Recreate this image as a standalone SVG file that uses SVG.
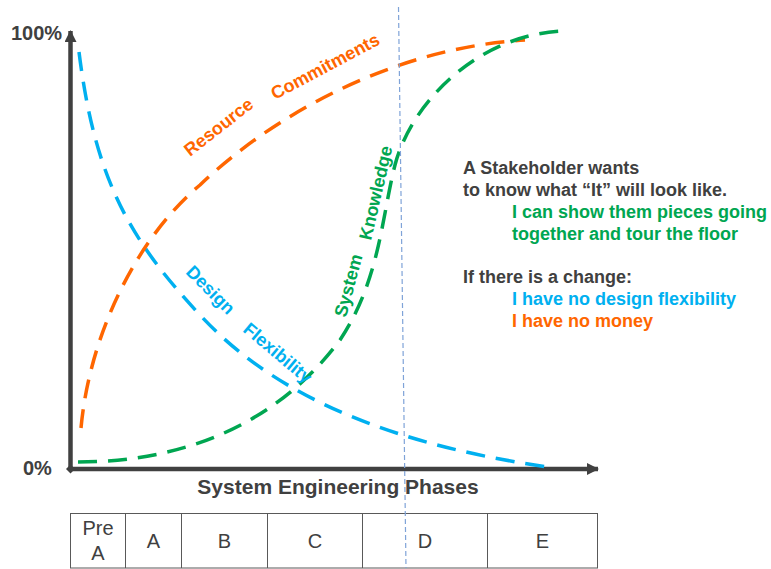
<svg xmlns="http://www.w3.org/2000/svg" width="771" height="569" viewBox="0 0 771 569">
  <style>
    .curve { fill: none; stroke-width: 3.5; stroke-dasharray: 19 11; }
    .blue { stroke: #00b0f0; }
    .orange { stroke: #ff6600; }
    .green { stroke: #00a651; }
    .lbl { font-family: "Liberation Sans", Arial, sans-serif; font-weight: bold; font-size: 18px; }
    .dark { fill: #404040; }
    .tb { font-family: "Liberation Sans", Arial, sans-serif; font-weight: bold; font-size: 18px; }
    .cell { font-family: "Liberation Sans", Arial, sans-serif; font-size: 20px; fill: #404040; text-anchor: middle; }
    .axislbl { font-family: "Liberation Sans", Arial, sans-serif; font-weight: bold; font-size: 20px; fill: #404040; }
  </style>
  <defs>
    <marker id="arrow" viewBox="0 0 12 12" refX="11" refY="6" markerWidth="12" markerHeight="12" markerUnits="userSpaceOnUse" orient="auto">
      <path d="M0,0 L12,6 L0,12 Z" fill="#404040"/>
    </marker>
  </defs>
  <rect x="0" y="0" width="771" height="569" fill="#ffffff"/>

  <g id="axes">
    <line x1="70.5" y1="469" x2="70.5" y2="31" stroke="#404040" stroke-width="4.5" marker-end="url(#arrow)"/>
    <line x1="70" y1="469" x2="598" y2="469" stroke="#404040" stroke-width="4.5" marker-end="url(#arrow)"/>
    <path d="M70.5,464.5 L75,469 L70.5,473.5 L66,469 Z" fill="#404040"/>
    <text class="axislbl" x="11" y="40">100%</text>
    <text class="axislbl" x="23" y="475">0%</text>
    <text class="axislbl" x="338" y="494" text-anchor="middle" style="font-size:21px">System Engineering Phases</text>
  </g>

  <g id="connectors">
    <path id="design-flexibility-curve" class="curve blue" d="M79,52 C95,180 130,240 200,315 C260,380 360,440 548,467"/>
    <path id="resource-curve" class="curve orange" d="M81,428 C90,330 140,235 200,185 C270,118 390,48 525,40"/>
    <path id="knowledge-curve" class="curve green" d="M78,462 C190,462 280,420 340,340 C380,280 382,215 395,165 C412,100 482,32 567,31"/>
  </g>

  <g id="curve-labels">
    <text class="lbl" fill="#ff6600" transform="translate(190,157) rotate(-38)">Resource</text>
    <text class="lbl" fill="#ff6600" transform="translate(275,100) rotate(-28)">Commitments</text>
    <text class="lbl" fill="#00b0f0" transform="translate(185,273) rotate(45)">Design</text>
    <text class="lbl" fill="#00b0f0" transform="translate(242,331) rotate(40)">Flexibility</text>
    <text class="lbl" fill="#00a651" transform="translate(346,318) rotate(-75)">System</text>
    <text class="lbl" fill="#00a651" transform="translate(371,241) rotate(-77)">Knowledge</text>
  </g>

  <g id="notes">
    <text class="tb dark" x="463" y="174">A Stakeholder wants</text>
    <text class="tb dark" x="463" y="196">to know what “It” will look like.</text>
    <text class="tb" fill="#00a651" x="512" y="218">I can show them pieces going</text>
    <text class="tb" fill="#00a651" x="512" y="240">together and tour the floor</text>
    <text class="tb dark" x="463" y="283">If there is a change:</text>
    <text class="tb" fill="#00b0f0" x="512" y="305">I have no design flexibility</text>
    <text class="tb" fill="#ff6600" x="512" y="327">I have no money</text>
  </g>

  <g id="phases-table" fill="none" stroke="#595959" stroke-width="1">
    <rect x="70.5" y="513.5" width="527" height="54.5"/>
    <line x1="125.5" y1="513.5" x2="125.5" y2="568"/>
    <line x1="181.5" y1="513.5" x2="181.5" y2="568"/>
    <line x1="267.5" y1="513.5" x2="267.5" y2="568"/>
    <line x1="362.5" y1="513.5" x2="362.5" y2="568"/>
    <line x1="487.5" y1="513.5" x2="487.5" y2="568"/>
  </g>
  <g id="phase-labels">
    <text class="cell" x="98" y="535">Pre</text>
    <text class="cell" x="98" y="560">A</text>
    <text class="cell" x="153.5" y="548">A</text>
    <text class="cell" x="224.5" y="548">B</text>
    <text class="cell" x="315" y="548">C</text>
    <text class="cell" x="425" y="548">D</text>
    <text class="cell" x="542.5" y="548">E</text>
  </g>

  <g id="milestone-line">
    <line x1="398.5" y1="7" x2="406" y2="568" stroke="#7fa3d8" stroke-width="1.2" stroke-dasharray="5 3"/>
  </g>
</svg>
